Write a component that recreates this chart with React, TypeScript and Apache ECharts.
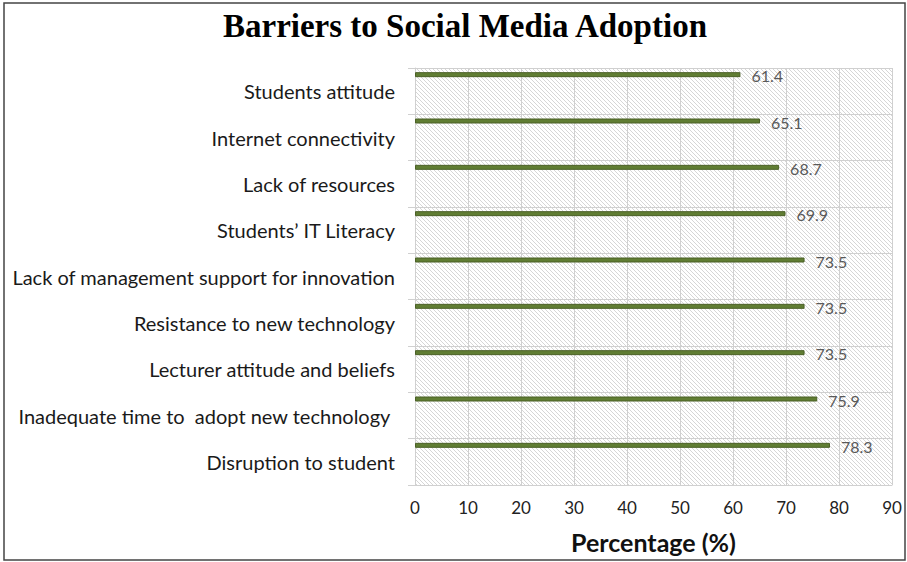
import React, { useEffect, useRef } from "react";
import * as echarts from "echarts";

const categories = [
  "Students attitude",
  "Internet connectivity",
  "Lack of resources",
  "Students’ IT Literacy",
  "Lack of management support for innovation",
  "Resistance to new technology",
  "Lecturer attitude and beliefs",
  "Inadequate time to  adopt new technology ",
  "Disruption to student",
];
const values = [61.4, 65.1, 68.7, 69.9, 73.5, 73.5, 73.5, 75.9, 78.3];
const spacer = categories.map(() => "-");

const title = "Barriers to Social Media Adoption";
const axisName = "Percentage (%)";

function makeHatch() {
  const c = document.createElement("canvas");
  c.width = 4;
  c.height = 4;
  const ctx = c.getContext("2d")!;
  ctx.fillStyle = "#ffffff";
  ctx.fillRect(0, 0, 4, 4);
  ctx.strokeStyle = "#d6d6d6";
  ctx.lineWidth = 1;
  ctx.beginPath();
  ctx.moveTo(-1, -1);
  ctx.lineTo(5, 5);
  ctx.moveTo(-1, 3);
  ctx.lineTo(1, 5);
  ctx.moveTo(3, -1);
  ctx.lineTo(5, 1);
  ctx.stroke();
  return c;
}

export default function App() {
  const ref = useRef<HTMLDivElement>(null);
  useEffect(() => {
    document.body.style.margin = "0";
    const chart = echarts.init(ref.current!, null, { renderer: "svg" });
    const hatch = makeHatch();
    const grid = { left: 415, top: 68, width: 477, height: 417 };
    chart.setOption({
      animation: false,
      backgroundColor: "#ffffff",
      title: {
        text: title,
        left: 218,
        top: 4,
        textStyle: {
          fontFamily: "Liberation Serif",
          fontWeight: "bold",
          fontSize: 33,
          color: "#000000",
        },
      },
      graphic: [
        {
          type: "rect",
          shape: { x: 4, y: 3, width: 901, height: 557 },
          style: { fill: "none", stroke: "#444444", lineWidth: 1.5 },
          z: 100,
        },
      ],
      grid: {
        ...grid,
        show: true,
        borderWidth: 0,
        backgroundColor: {
          image: hatch,
          repeat: "repeat",
          imageWidth: 4,
          imageHeight: 4,
        },
      },
      xAxis: {
        type: "value",
        min: 0,
        max: 90,
        interval: 10,
        axisLine: { show: true, lineStyle: { color: "#d0d0d0" } },
        axisTick: { show: false },
        splitLine: { show: true, lineStyle: { color: "#d0d0d0", width: 1 } },
        axisLabel: {
          margin: 14,
          fontFamily: "Lato",
          fontSize: 17,
          color: "#222222",
        },
        name: axisName,
        nameLocation: "middle",
        nameGap: 44,
        nameTextStyle: {
          fontFamily: "Lato",
          fontWeight: "bold",
          fontSize: 25,
          color: "#111111",
        },
      },
      yAxis: {
        type: "category",
        inverse: true,
        data: categories,
        axisLine: { show: true, lineStyle: { color: "#d0d0d0" } },
        axisTick: { show: true, length: 7, lineStyle: { color: "#d0d0d0" } },
        splitLine: { show: true, lineStyle: { color: "#d0d0d0", width: 1 } },
        axisLabel: {
          margin: 20,
          fontFamily: "Lato",
          fontSize: 20,
          color: "#1a1a1a",
          padding: [0, 0, 3, 0],
        },
      },
      series: [
        {
          type: "bar",
          data: values,
          barWidth: 5,
          barGap: "0%",
          itemStyle: { color: "#607d33", borderColor: "#4b6127", borderWidth: 1 },
          label: {
            show: true,
            position: "right",
            distance: 11,
            offset: [0, 1],
            fontFamily: "Lato",
            fontSize: 16,
            color: "#595959",
          },
        },
        {
          type: "bar",
          data: spacer,
          barWidth: 33,
          barGap: "0%",
          silent: true,
          itemStyle: { color: "transparent" },
        },
      ],
    });
    return () => chart.dispose();
  }, []);
  return <div ref={ref} style={{ width: 907, height: 562 }} />;
}
